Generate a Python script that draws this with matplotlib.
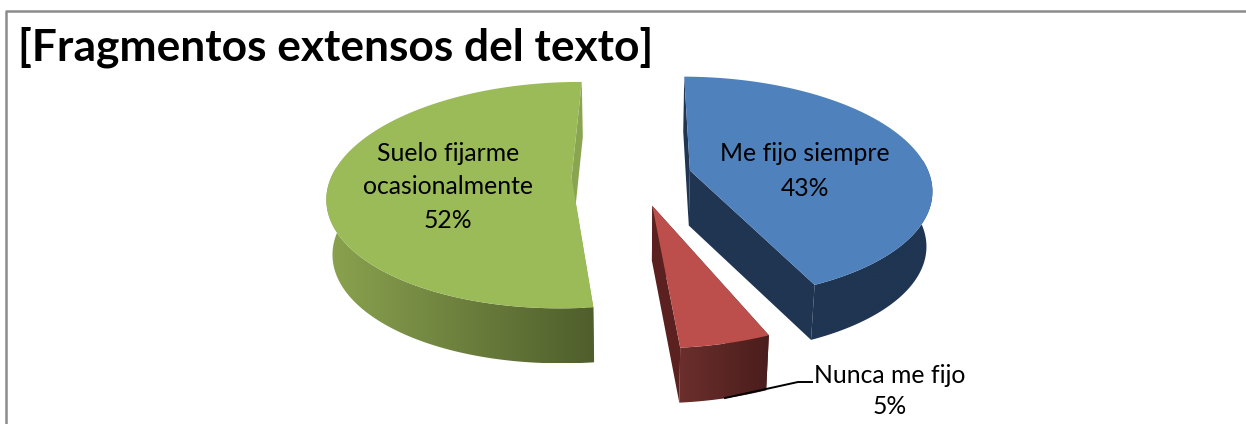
import matplotlib
matplotlib.use("Agg")
import matplotlib.pyplot as plt
from matplotlib.colors import LinearSegmentedColormap
from matplotlib.patches import Polygon
import numpy as np

plt.rcParams["font.family"] = ["Lato", "DejaVu Sans"]

TITLE = "[Fragmentos extensos del texto]"
categories = ["Me fijo siempre", "Nunca me fijo", "Suelo fijarme\nocasionalmente"]
percents = [43, 5, 52]

top_colors = ["#4f81bd", "#bc4f4c", "#9bbb59"]
face_colors = ["#1f3552", "#5a2120", "#8aa54f"]
wall_left = ["#1f3552", "#6b2f2c", "#8ba34f"]
wall_right = ["#1f3552", "#4a1d1c", "#4f5e2c"]
explode = [0.24, 0.27, 0.26]
turn = [0.0, 2.0, 0.0]

CX, CY = 634, 176
RX, RY = 240, 110
PERSP = 0.155
DEPTH = 55
SHRINK = 0.02
START = 0.5


def project(u, v, z=0.0):
    s = 1 / (1 + PERSP * v)
    x = CX + RX * u * s * (1 - SHRINK * z)
    y = CY - RY * v * s + DEPTH * z
    return np.column_stack([x, y])


def gradient_poly(ax, pts, c0, c1):
    # horizontal shading, clipped to the wall outline
    cmap = LinearSegmentedColormap.from_list("wall", [c0, c1])
    patch = Polygon(pts, closed=True, fc="none", ec="none")
    ax.add_patch(patch)
    x0, x1 = pts[:, 0].min(), pts[:, 0].max()
    y0, y1 = pts[:, 1].min(), pts[:, 1].max()
    im = ax.imshow(np.linspace(0, 1, 256)[None, :], cmap=cmap, aspect="auto",
                   extent=(x0, x1, y1, y0), zorder=2, interpolation="bilinear")
    im.set_clip_path(patch)


def draw_slice(ax, t0, t1, i):
    mid = (t0 + t1) / 2
    du, dv = explode[i] * np.sin(mid), explode[i] * np.cos(mid)
    t = np.linspace(t0, t1, 300) + np.deg2rad(turn[i])
    u = du + np.sin(t)
    v = dv + np.cos(t)

    apex_top = project(np.array([du]), np.array([dv]))
    apex_low = project(np.array([du]), np.array([dv]), 1)
    rim_top = project(u, v)
    rim_low = project(u, v, 1)

    for end in (0, -1):
        face = np.vstack([apex_top, rim_top[end], rim_low[end], apex_low])
        ax.add_patch(Polygon(face, closed=True, fc=face_colors[i], ec="none", zorder=1))

    # only the front of the rim can be seen
    front = np.cos(t) < 0.1
    wall = np.vstack([rim_top[front], rim_low[front][::-1]])
    gradient_poly(ax, wall, wall_left[i], wall_right[i])

    top = np.vstack([apex_top, rim_top])
    ax.add_patch(Polygon(top, closed=True, fc=top_colors[i], ec="none", zorder=3))


def main():
    fig = plt.figure(figsize=(12.46, 4.24), dpi=100)
    ax = fig.add_axes([0, 0, 1, 1])

    fractions = np.array(percents) / sum(percents)
    edges = np.deg2rad(START) + 2 * np.pi * np.concatenate([[0], np.cumsum(fractions)])
    for i in range(len(percents)):
        draw_slice(ax, edges[i], edges[i + 1], i)

    ax.set_xlim(0, 1246)
    ax.set_ylim(424, 0)
    ax.axis("off")

    # chart frame, only top and left show in the crop
    ax.plot([6, 6, 1246], [424, 11, 11], color="#8c8c8c", lw=1.8, zorder=5)

    ax.text(18, 61, TITLE, fontsize=31.9, fontweight="bold", color="black",
            ha="left", va="baseline", zorder=6)

    fs = 17.8
    ax.text(805, 171, f"{categories[0]}\n{percents[0]}%", fontsize=fs, ha="center",
            va="center", linespacing=1.62, zorder=6)
    ax.text(890, 391, f"{categories[1]}\n{percents[1]}%", fontsize=fs, ha="center",
            va="center", linespacing=1.42, zorder=6)
    ax.text(448, 187, f"{categories[2]}\n{percents[2]}%", fontsize=fs, ha="center",
            va="center", linespacing=1.55, zorder=6)

    ax.plot([725, 798, 812], [398, 382, 382], color="black", lw=1.4, zorder=5)

    fig.savefig("out.png", dpi=100)


if __name__ == "__main__":
    main()
